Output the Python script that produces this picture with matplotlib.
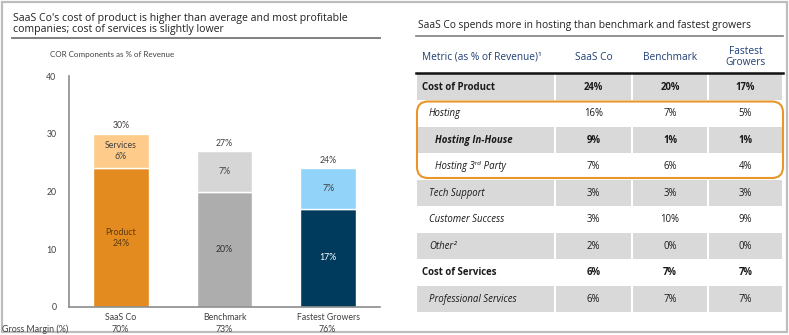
import matplotlib
matplotlib.use("Agg")
import matplotlib.pyplot as plt
from matplotlib.patches import Rectangle, FancyBboxPatch

# ---------------- data ----------------
companies = ["SaaS Co", "Benchmark", "Fastest Growers"]
product_pct = [24, 20, 17]
services_pct = [6, 7, 7]
total_pct = [30, 27, 24]
gross_margin = ["70%", "73%", "76%"]
product_labels = ["Product\n24%", "20%", "17%"]
services_labels = ["Services\n6%", "7%", "7%"]
yticks = [0, 10, 20, 30, 40]

table_header = ["Metric (as % of Revenue)\u00b9", "SaaS Co", "Benchmark", "Fastest\nGrowers"]
row_names = ["Cost of Product", "Hosting", "Hosting In-House", "Hosting 3\u02b3\u1d48 Party",
             "Tech Support", "Customer Success", "Other\u00b2", "Cost of Services",
             "Professional Services"]
saas_vals = ["24%", "16%", "9%", "7%", "3%", "3%", "2%", "6%", "6%"]
bench_vals = ["20%", "7%", "1%", "6%", "3%", "10%", "0%", "7%", "7%"]
fast_vals = ["17%", "5%", "1%", "4%", "3%", "9%", "0%", "7%", "7%"]

# ---------------- styles ----------------
W, H = 789, 335
FONT = ["Open Sans", "DejaVu Sans"]
CFONT = ["Lato", "DejaVu Sans"]
prod_colors = ["#E38B1F", "#ADADAD", "#003A5D"]
serv_colors = ["#FECB8B", "#D6D6D6", "#92D3FA"]
prod_text = ["#5A3A10", "#333333", "white"]
txt = "#404040"

fig = plt.figure(figsize=(W / 100, H / 100), dpi=100)
bg = fig.add_axes([0, 0, 1, 1])
bg.set_xlim(0, W)
bg.set_ylim(H, 0)
bg.axis("off")

# outer frame
bg.add_patch(Rectangle((2, 2), 785, 330, fill=False, ec="#BDBDBD", lw=1.6))

# left title
bg.text(13, 35, "SaaS Co's cost of product is higher than average and most profitable\ncompanies; cost of services is slightly lower",
        fontsize=7.6, family=FONT, color="#222222", va="bottom", ha="left", linespacing=1.05)
bg.plot([12, 380], [38, 38], color="#808080", lw=1.4)
bg.text(50, 55, "COR Components as % of Revenue", fontsize=5.8, family=CFONT, color=txt, va="center")
bg.text(2, 329, "Gross Margin (%)", fontsize=6.4, family=CFONT, color=txt, va="center")

# ---------------- bar chart ----------------
ax = fig.add_axes([69 / W, (H - 307) / H, (380 - 69) / W, (307 - 76) / H])
x = list(range(len(companies)))
ax.bar(x, product_pct, width=0.54, color=prod_colors, edgecolor="white", lw=1)
ax.bar(x, services_pct, bottom=product_pct, width=0.54, color=serv_colors, edgecolor="white", lw=1)
ax.set_xlim(-0.5, 2.5)
ax.set_ylim(0, 40)
ax.set_yticks(yticks)
ax.set_yticklabels([str(v) for v in yticks], fontsize=6.3, family=CFONT, color=txt)
ax.set_xticks(x)
ax.set_xticklabels(companies, fontsize=6.3, family=CFONT, color=txt)
ax.tick_params(length=0, pad=9)
ax.tick_params(axis="x", pad=4)
for s in ["top", "right"]:
    ax.spines[s].set_visible(False)
for s in ["left", "bottom"]:
    ax.spines[s].set_color("#8C8C8C")
    ax.spines[s].set_linewidth(1.2)
ax.patch.set_alpha(0)
for i in x:
    ax.text(i, product_pct[i] / 2, product_labels[i], ha="center", va="center",
            fontsize=6.3, family=CFONT, color=prod_text[i], linespacing=1.3)
    ax.text(i, product_pct[i] + services_pct[i] / 2, services_labels[i], ha="center", va="center",
            fontsize=6.3, family=CFONT, color="#404040", linespacing=1.3)
    ax.text(i, total_pct[i] + 0.6, f"{total_pct[i]}%", ha="center", va="bottom",
            fontsize=6.3, family=CFONT, color=txt)
    # gross margin row
    xp = 120.5 + 103.5 * i
    bg.text(xp, 329, gross_margin[i], ha="center", va="center", fontsize=6.3, family=CFONT, color=txt)

# ---------------- table ----------------
bg.text(418, 31, "SaaS Co spends more in hosting than benchmark and fastest growers",
        fontsize=7.4, family=FONT, color="#222222", va="bottom", ha="left")
bg.plot([416, 783], [36, 36], color="#808080", lw=1.2)

cols = [416, 555, 632, 708, 783]
navy = "#1F3F73"
bg.text(422, 57, table_header[0], fontsize=7.3, family=FONT, color=navy, va="center", ha="left")
for j in range(1, 4):
    cx = (cols[j] + cols[j + 1]) / 2
    bg.text(cx, 57, table_header[j], fontsize=7.3, family=FONT, color=navy, va="center", ha="center",
            linespacing=1.05)
bg.plot([416, 783], [72.5, 72.5], color="#111111", lw=1.8)

row_top = 74
rh = 26.5
indent = [422, 429, 435, 435, 429, 429, 429, 422, 429]
name_style = ["bold", "italic", "bolditalic", "italic", "italic", "italic", "italic", "bold", "italic"]
for r in range(len(row_names)):
    y0 = row_top + r * rh
    yc = y0 + rh / 2
    if r % 2 == 0:
        for j in range(4):
            bg.add_patch(Rectangle((cols[j] + 0.8, y0), cols[j + 1] - cols[j] - 1.6, rh - 0.6,
                                   fc="#D9D9D9", ec="none"))
    st = name_style[r]
    bg.text(indent[r], yc, row_names[r], fontsize=6.9, family=FONT, color="#1A1A1A", va="center", ha="left",
            fontweight="bold" if "bold" in st else "normal",
            fontstyle="italic" if "italic" in st else "normal")
    vw = "bold" if st in ("bold", "bolditalic") else "normal"
    for j, vals in enumerate([saas_vals, bench_vals, fast_vals], start=1):
        cx = (cols[j] + cols[j + 1]) / 2
        bg.text(cx, yc, vals[r], fontsize=6.9, family=FONT, color="#1A1A1A", va="center", ha="center",
                fontweight=vw)

# orange highlight around hosting rows
bg.add_patch(FancyBboxPatch((417, row_top + rh + 1), 366, 3 * rh - 3,
                            boxstyle="round,pad=0,rounding_size=11", fill=False, ec="#E8962A", lw=1.5))

fig.savefig("out.png", dpi=100)
